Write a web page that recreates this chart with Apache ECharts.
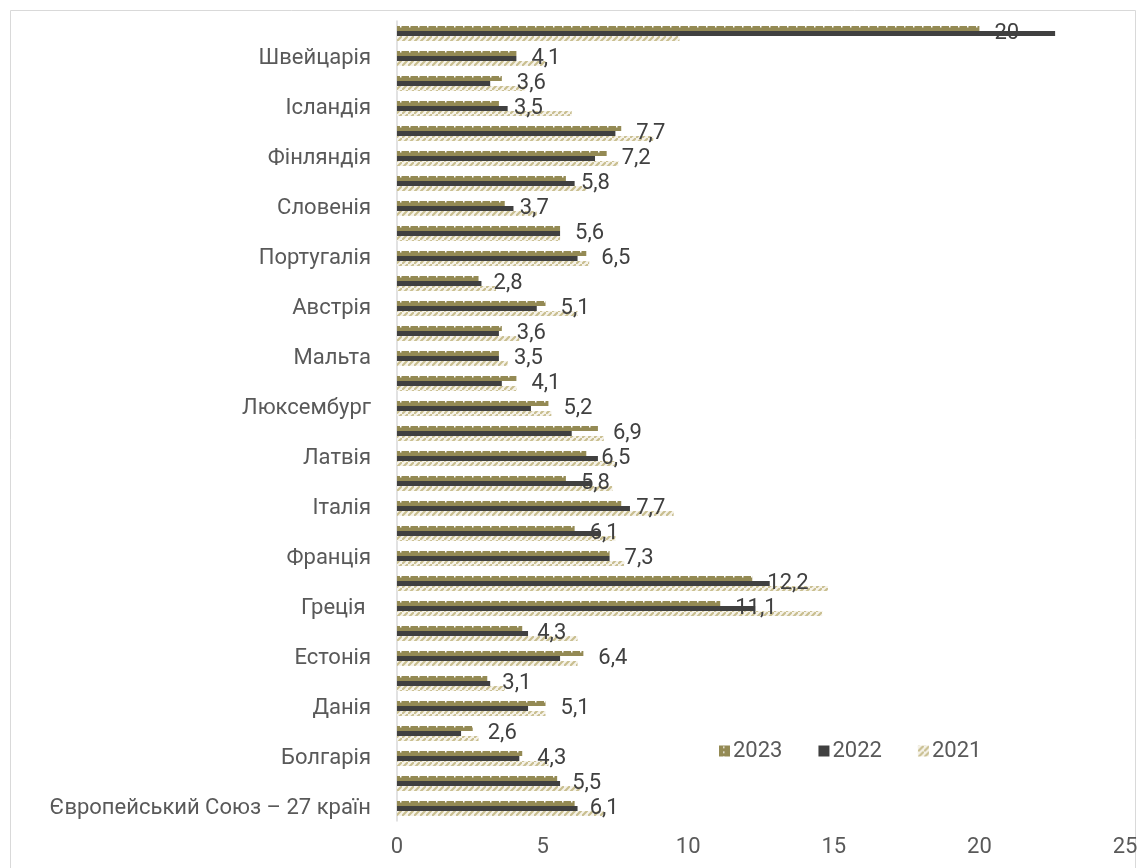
<!DOCTYPE html>
<html>
<head>
<meta charset="utf-8">
<script src="https://cdn.jsdelivr.net/npm/echarts@6/dist/echarts.min.js"></script>
<style>
html,body{margin:0;padding:0;background:#fff;}
#chart{width:1142px;height:868px;}
</style>
</head>
<body>
<div id="chart"></div>
<script>
// Categories listed bottom to top
const categories = [
  'Європейський Союз – 27 країн','Бельгія','Болгарія','Чехія','Данія','Німеччина','Естонія','Ірландія',
  'Греція ','Іспанія','Франція','Хорватія','Італія','Кіпр','Латвія','Литва',
  'Люксембург','Угорщина','Мальта','Нідерланди','Австрія','Польща','Португалія','Румунія',
  'Словенія','Словаччина','Фінляндія','Швеція','Ісландія','Норвегія','Швейцарія','Туреччина'
];
const values2023 = [6.1,5.5,4.3,2.6,5.1,3.1,6.4,4.3,11.1,12.2,7.3,6.1,7.7,5.8,6.5,6.9,5.2,4.1,3.5,3.6,5.1,2.8,6.5,5.6,3.7,5.8,7.2,7.7,3.5,3.6,4.1,20];
const values2022 = [6.2,5.6,4.2,2.2,4.5,3.2,5.6,4.5,12.3,12.8,7.3,7.0,8.0,6.7,6.9,6.0,4.6,3.6,3.5,3.5,4.8,2.9,6.2,5.6,4.0,6.1,6.8,7.5,3.8,3.2,4.1,22.6];
const values2021 = [7.1,6.3,5.2,2.8,5.1,3.7,6.2,6.2,14.6,14.8,7.8,7.5,9.5,7.4,7.5,7.1,5.3,4.1,3.8,4.2,6.2,3.4,6.6,5.6,4.8,6.5,7.6,8.8,6.0,4.4,5.1,9.7];
const seriesNames = ['2023','2022','2021'];
const xTicks = [0,5,10,15,20,25];

function makePattern(w,h,draw){
  const c=document.createElement('canvas'); c.width=w; c.height=h;
  const g=c.getContext('2d'); draw(g,w,h); return c;
}
const pat2023 = makePattern(9,5,(g,w,h)=>{
  g.fillStyle='#948A54'; g.fillRect(0,0,w,h);
  g.fillStyle='#ffffff'; g.fillRect(4,1,1.5,1.5);
});
const pat2021 = makePattern(6,6,(g,w,h)=>{
  g.fillStyle='#f6f3ea'; g.fillRect(0,0,w,h);
  g.strokeStyle='#c9bf90'; g.lineWidth=2.2;
  g.beginPath();
  g.moveTo(-1,h+1); g.lineTo(w+1,-1);
  g.moveTo(-1+w,h+1+w); g.lineTo(w+1+w,-1+w);
  g.moveTo(-1-w,h+1-w); g.lineTo(w+1-w,-1-w);
  g.stroke();
});
const FONT = 'Roboto';
const chart = echarts.init(document.getElementById('chart'));
const fmt = v => String(v).replace('.', ',');
chart.setOption({
  animation:false,
  backgroundColor:'#ffffff',
  graphic:[{type:'rect',left:8,top:8,shape:{width:1125,height:880},style:{fill:'none',stroke:'#d9d9d9',lineWidth:1}}],
  grid:{left:397,right:17,top:21,bottom:47,containLabel:false},
  legend:{
    data:seriesNames, left:714, top:735, itemWidth:11, itemHeight:11, itemGap:36,
    icon:'rect',
    textStyle:{fontFamily:FONT,fontSize:22,color:'#595959',padding:[0,0,0,-2]}
  },
  xAxis:{
    type:'value', min:0, max:25, interval:5,
    axisLine:{show:false}, axisTick:{show:false}, splitLine:{show:false},
    axisLabel:{fontFamily:FONT,fontSize:22,color:'#595959',margin:15}
  },
  yAxis:{
    type:'category', data:categories,
    axisLine:{show:true,lineStyle:{color:'#d9d9d9',width:1.5}},
    axisTick:{show:false},
    axisLabel:{interval:1,fontFamily:FONT,fontSize:22,color:'#595959',margin:26}
  },
  series:[
    {name:'2023',type:'bar',data:values2023,barGap:'0%',barCategoryGap:'40%',
     itemStyle:{color:{image:pat2023,repeat:'repeat'}},
     label:{show:true,position:'right',distance:15,offset:[0,5],
       fontFamily:FONT,fontSize:22,color:'#404040',formatter:p=>fmt(p.value)}},
    {name:'2022',type:'bar',data:values2022,barGap:'0%',barCategoryGap:'40%',
     itemStyle:{color:'#404040'}},
    {name:'2021',type:'bar',data:values2021,barGap:'0%',barCategoryGap:'40%',
     itemStyle:{color:{image:pat2021,repeat:'repeat'}}}
  ]
});
</script>
</body>
</html>
